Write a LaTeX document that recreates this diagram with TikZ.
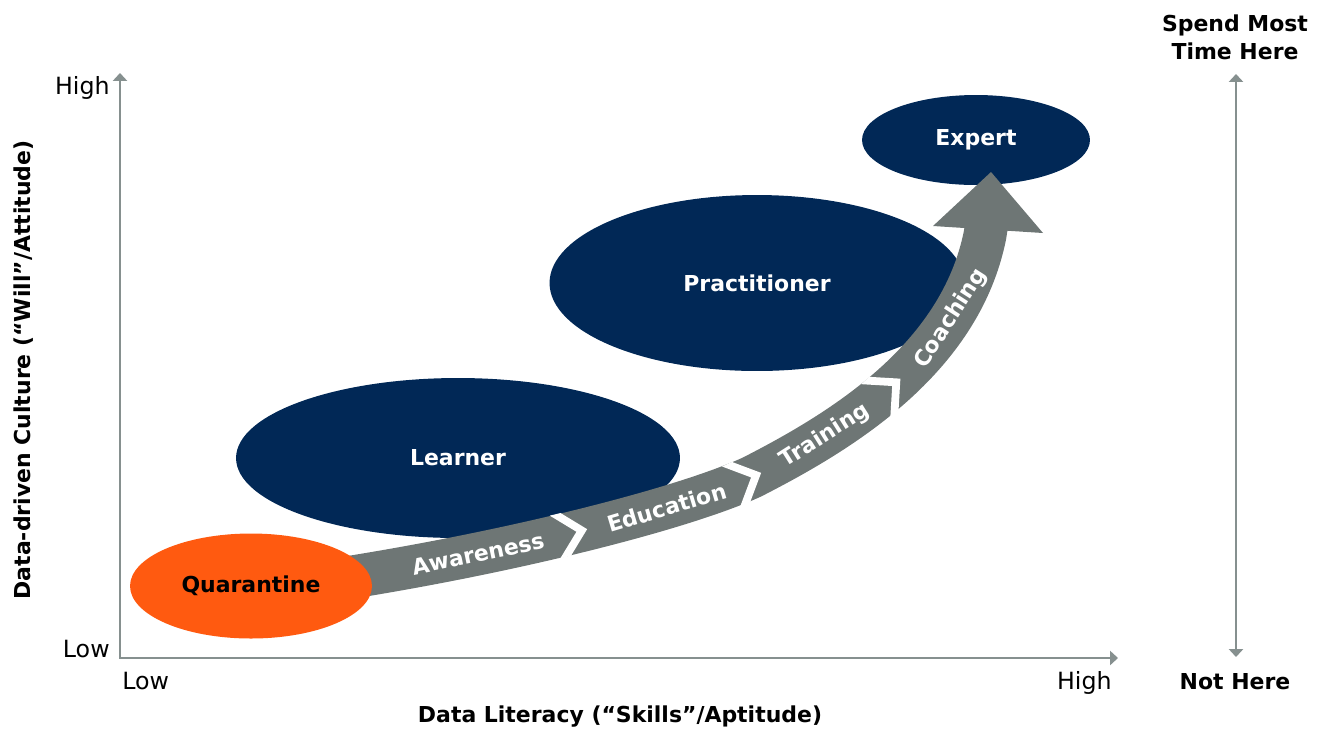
\documentclass[tikz,border=0pt]{standalone}
\usepackage{fontspec}
\setmainfont{DejaVu Sans}
\usetikzlibrary{shapes.geometric}
\usetikzlibrary{arrows.meta}
\usetikzlibrary{decorations.markings}
\definecolor{navy}{HTML}{012856}
\definecolor{quarorange}{HTML}{FF5A10}
\definecolor{bandgray}{HTML}{6E7675}
\definecolor{axisgray}{HTML}{86908F}
\tikzstyle{phase} = [ellipse, fill=navy, text=white, inner sep=0pt,
font=\fontsize{12.5}{15}\selectfont\bfseries]
\tikzstyle{quar} = [phase, fill=quarorange, text=black]
\tikzstyle{axisline} = [draw=axisgray, line width=1.2pt,
{Triangle[width=8pt,length=4.5pt]}-{Triangle[width=8pt,length=4.5pt]}]
\tikzstyle{ticklabel} = [font=\fontsize{13.5}{15}\selectfont, inner sep=0pt]
\tikzstyle{axistitle} = [font=\fontsize{12.5}{15.9}\selectfont\bfseries, inner sep=0pt]
\tikzstyle{band} = [draw=bandgray, line width=0.86cm]
\tikzstyle{stage} = [axistitle, text=white, transform shape]
% white gap between two stages of the band
\newcommand{\chev}{\fill[white] (-22,-22) -- (0,0) -- (-22,22) -- (-11,22)
  -- (11,0) -- (-11,-22) -- cycle;}

\begin{document}
\begin{tikzpicture}[x=0.02cm,y=-0.02cm]
    \useasboundingbox (0,0) rectangle (1324,728);
    \coordinate (ytop) at (120,73);
    \coordinate (origin) at (120,658);
    \coordinate (xend) at (1118,658);
    \coordinate (most) at (1236,74);
    \coordinate (least) at (1236,657);
    \draw[axisline] (ytop) -- (origin) -- (xend);
    \draw[axisline] (most) -- (least);
    \node[ticklabel, anchor=base east] (yhigh) at (110,94) {High};
    \node[ticklabel, anchor=base east] (ylow) at (110,657) {Low};
    \node[ticklabel, anchor=base west] (xlow) at (122,689) {Low};
    \node[ticklabel, anchor=base east] (xhigh) at (1112,689) {High};
    \node[axistitle, anchor=base] (xtitle) at (620,722) {Data Literacy (“Skills”/Aptitude)};
    \node[axistitle, anchor=base, rotate=90] (ytitle) at (31,370) {Data-driven Culture (“Will”/Attitude)};
    \node[axistitle, anchor=base, align=center] (spend) at (1235,59) {Spend Most\\Time Here};
    \node[axistitle, anchor=base] (nothere) at (1235,689) {Not Here};
    %% levels
    \node[phase, minimum width=8.88cm, minimum height=3.2cm] (learner) at (458,458) {Learner};
    \node[phase, minimum width=8.3cm, minimum height=3.52cm] (practitioner) at (757,283) {Practitioner};
    \node[phase, minimum width=4.56cm, minimum height=1.8cm] (expert) at (976,140) {Expert};
    %% path of stages
    \draw[band, postaction={decorate, decoration={markings,
      mark=at position 0.199 with {\node[stage] (aware) {Awareness};},
      mark=at position 0.324 with {\chev},
      mark=at position 0.44 with {\node[stage] (educ) {Education};},
      mark=at position 0.551 with {\chev},
      mark=at position 0.656 with {\node[stage] (train) {Training};},
      mark=at position 0.76 with {\chev},
      mark=at position 0.871 with {\node[stage] (coach) {Coaching};}}}]
      (320,582) .. controls (500,555) and (680,510) .. (752,477)
      .. controls (840,432) and (960,360) .. (985,235) -- (987,222);
    \fill[bandgray] (933,226) -- (991,172) -- (1043,233) -- cycle;
    \node[quar, minimum width=4.84cm, minimum height=2.1cm] (quarantine) at (251,586) {Quarantine};
\end{tikzpicture}
\end{document}
